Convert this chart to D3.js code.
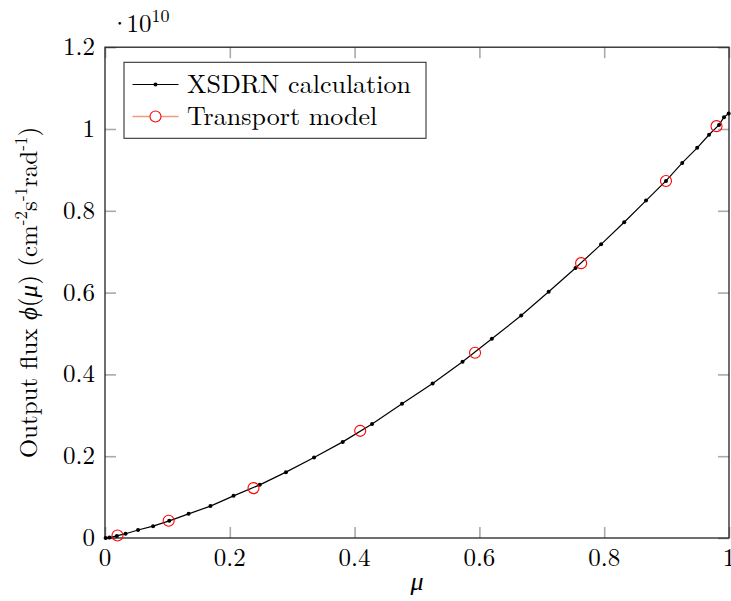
<!DOCTYPE html>
<html><head><meta charset="utf-8">
<script src="https://cdn.jsdelivr.net/npm/d3@7"></script>
<style>body{margin:0;background:#fff} svg{display:block}</style>
</head><body>
<svg id="c" width="731" height="601"></svg>
<script>
// XSDRN calculation (flux in units of 1e10)
const xsdrnMu = [0.001,0.007,0.019,0.033,0.053,0.077,0.103,0.134,0.169,0.206,0.248,0.290,0.335,0.381,0.428,0.476,0.525,0.573,0.620,0.667,0.711,0.754,0.795,0.832,0.867,0.899,0.925,0.949,0.968,0.984,0.992,0.9995];
const xsdrnFlux = [0.000,0.001,0.005,0.0105,0.0196,0.029,0.042,0.059,0.078,0.103,0.130,0.161,0.197,0.235,0.279,0.328,0.378,0.431,0.487,0.544,0.602,0.660,0.718,0.772,0.825,0.873,0.917,0.954,0.986,1.010,1.029,1.038];
// Transport model
const transportMu = [0.020,0.102,0.238,0.409,0.593,0.763,0.899,0.980];
const transportFlux = [0.006,0.042,0.122,0.262,0.453,0.672,0.873,1.007];
// ticks
const xTicks = [0,0.2,0.4,0.6,0.8,1];
const xTickLabels = ["0","0.2","0.4","0.6","0.8","1"];
const yTicks = [0,0.2,0.4,0.6,0.8,1,1.2];
const yTickLabels = ["0","0.2","0.4","0.6","0.8","1","1.2"];
const seriesNames = ["XSDRN calculation","Transport model"];

const FONT = "'Latin Modern Roman','CMU Serif','Liberation Serif',serif";
const svg = d3.select("#c");
const L = 105, R = 729, T = 47.2, B = 538;
const x = d3.scaleLinear().domain([0,1]).range([L,R]);
const y = d3.scaleLinear().domain([0,1.2]).range([B,T]);

const tickLen = 11;
const gTicks = svg.append("g");
gTicks.append("g").attr("transform",`translate(0,${B})`).call(d3.axisTop(x).tickValues(xTicks).tickSize(tickLen).tickFormat("")).call(a=>a.select(".domain").remove());
gTicks.append("g").attr("transform",`translate(0,${T})`).call(d3.axisBottom(x).tickValues(xTicks).tickSize(tickLen).tickFormat("")).call(a=>a.select(".domain").remove());
gTicks.append("g").attr("transform",`translate(${L},0)`).call(d3.axisRight(y).tickValues(yTicks).tickSize(tickLen).tickFormat("")).call(a=>a.select(".domain").remove());
gTicks.append("g").attr("transform",`translate(${R},0)`).call(d3.axisLeft(y).tickValues(yTicks).tickSize(tickLen).tickFormat("")).call(a=>a.select(".domain").remove());
svg.selectAll(".tick line").attr("stroke","#aaa").attr("stroke-width",1.6);

// frame
svg.append("rect").attr("x",L).attr("y",T).attr("width",R-L).attr("height",B-T)
  .attr("fill","none").attr("stroke","#222").attr("stroke-width",1.3);

// tick labels
svg.append("g").selectAll("text").data(xTicks).join("text")
  .attr("x",d=>x(d)).attr("y",B+28).attr("text-anchor","middle")
  .attr("font-family",FONT).attr("font-size",25).attr("fill","#000")
  .text((d,i)=>xTickLabels[i]);
svg.append("g").selectAll("text").data(yTicks).join("text")
  .attr("x",L-10).attr("y",d=>y(d)+8).attr("text-anchor","end")
  .attr("font-family",FONT).attr("font-size",25).attr("fill","#000")
  .text((d,i)=>yTickLabels[i]);

// multiplier
const mult = svg.append("text").attr("x",110).attr("y",32).attr("font-family",FONT).attr("font-size",25).attr("fill","#000");
mult.append("tspan").text("\u00B7");
mult.append("tspan").attr("dx",-3).text("10");
mult.append("tspan").attr("font-size",18).attr("dy",-10).text("10");

// x label
svg.append("text").attr("x",(L+R)/2).attr("y",590).attr("text-anchor","middle")
  .attr("font-family",FONT).attr("font-size",26).attr("font-style","italic").text("\u03BC");

// y label
const yl = svg.append("text").attr("transform",`translate(37,${(T+B)/2}) rotate(-90)`)
  .attr("text-anchor","middle").attr("font-family",FONT).attr("font-size",25).attr("fill","#000");
yl.append("tspan").text("Output flux ");
yl.append("tspan").attr("font-style","italic").text("\u03D5");
yl.append("tspan").text("(");
yl.append("tspan").attr("font-style","italic").text("\u03BC");
yl.append("tspan").text(") (cm");
yl.append("tspan").attr("font-size",17).attr("dy",-10).text("-2");
yl.append("tspan").attr("dy",10).text("s");
yl.append("tspan").attr("font-size",17).attr("dy",-10).text("-1");
yl.append("tspan").attr("dy",10).text("rad");
yl.append("tspan").attr("font-size",17).attr("dy",-10).text("-1");
yl.append("tspan").attr("dy",10).text(")");

// XSDRN line + dots
const xsdrn = xsdrnMu.map((m,i)=>({m, v:xsdrnFlux[i]}));
svg.append("path").datum(xsdrn)
  .attr("d",d3.line().x(d=>x(d.m)).y(d=>y(d.v)))
  .attr("fill","none").attr("stroke","#000").attr("stroke-width",1.2);
svg.append("g").selectAll("circle").data(xsdrn).join("circle")
  .attr("cx",d=>x(d.m)).attr("cy",d=>y(d.v)).attr("r",2).attr("fill","#000");

// Transport circles
const tr = transportMu.map((m,i)=>({m, v:transportFlux[i]}));
svg.append("g").selectAll("circle").data(tr).join("circle")
  .attr("cx",d=>x(d.m)).attr("cy",d=>y(d.v)).attr("r",5.5)
  .attr("fill","none").attr("stroke","#f00").attr("stroke-width",1.1);

// legend
const lg = svg.append("g");
lg.append("rect").attr("x",124).attr("y",62.3).attr("width",302).attr("height",76)
  .attr("fill","#fff").attr("stroke","#333").attr("stroke-width",1.1);
const ly = [84.5,116.5];
lg.append("line").attr("x1",132.5).attr("x2",178.5).attr("y1",ly[0]).attr("y2",ly[0]).attr("stroke","#000").attr("stroke-width",1.2);
lg.append("circle").attr("cx",155.5).attr("cy",ly[0]).attr("r",2).attr("fill","#000");
lg.append("line").attr("x1",132.5).attr("x2",178.5).attr("y1",ly[1]).attr("y2",ly[1]).attr("stroke","#ef9a80").attr("stroke-width",1.4);
lg.append("circle").attr("cx",155.5).attr("cy",ly[1]).attr("r",5.5).attr("fill","#fff").attr("stroke","#f00").attr("stroke-width",1.1);
lg.selectAll("text.lt").data(seriesNames).join("text").attr("class","lt")
  .attr("x",187).attr("y",(d,i)=>ly[i]+8).attr("font-family",FONT).attr("font-size",26).attr("fill","#000")
  .text(d=>d);
</script>
</body></html>
